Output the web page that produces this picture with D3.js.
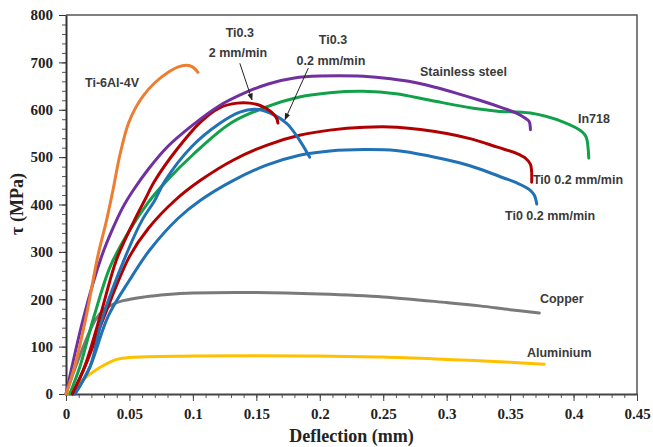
<!DOCTYPE html>
<html>
<head>
<meta charset="utf-8">
<style>
  body { margin: 0; background: #fff; }
  .tick text { font-family: "Liberation Serif", "Times New Roman", serif; font-weight: bold; font-size: 15px; fill: #222; }
  .note { font-family: "Liberation Sans", Arial, sans-serif; font-weight: bold; font-size: 12.5px; fill: #3a3a3a; }
</style>
</head>
<body>
<svg width="653" height="447"></svg>
<script src="https://cdn.jsdelivr.net/npm/d3@7/dist/d3.min.js"></script>
<script>
// curves: [deflection mm, shear stress MPa]
const aluminium = [[0.002,0],[0.013,30],[0.026,55],[0.035,68],[0.04,73],[0.05,77],[0.1,80],[0.15,81],[0.2,80],[0.25,78],[0.3,73],[0.35,67],[0.377,63]];
const copper = [[0,0],[0.01,75],[0.02,140],[0.023,156],[0.03,178],[0.036,188],[0.045,197],[0.062,205],[0.08,210],[0.1,213],[0.15,214],[0.2,211],[0.25,205],[0.3,193],[0.326,186],[0.35,178],[0.373,171]];
const ti6al4v = [[0,0],[0.007,60],[0.016,165],[0.025,290],[0.032,367],[0.037,430],[0.0425,505],[0.049,570],[0.055,605],[0.061,630],[0.07,657],[0.08,678],[0.088,690],[0.095,694],[0.1,690],[0.104,679]];
const stainless = [[0,0],[0.014,163],[0.028,290],[0.037,350],[0.045,395],[0.053,430],[0.065,475],[0.08,522],[0.1,568],[0.12,607],[0.143,638],[0.16,655],[0.18,667],[0.2,671],[0.23,671],[0.25,667],[0.27,660],[0.29,648],[0.31,633],[0.326,620],[0.345,603],[0.355,593],[0.362,582],[0.365,575],[0.366,558]];
const ti03fast = [[0.005,0],[0.015,60],[0.027,165],[0.04,285],[0.054,367],[0.062,409],[0.07,450],[0.087,515],[0.106,574],[0.121,604],[0.135,614],[0.145,614],[0.153,609],[0.162,595],[0.166,582],[0.167,572]];
const ti03slow = [[0.007,0],[0.019,58],[0.029,163],[0.049,304],[0.06,367],[0.07,409],[0.078,450],[0.099,522],[0.121,571],[0.137,595],[0.149,601],[0.161,593],[0.174,571],[0.184,536],[0.192,500]];
const in718 = [[0.003,0],[0.011,58],[0.022,163],[0.035,270],[0.05,345],[0.065,405],[0.08,452],[0.1,505],[0.13,572],[0.158,606],[0.184,627],[0.208,636],[0.234,639],[0.26,634],[0.287,620],[0.321,603],[0.34,597],[0.366,593],[0.392,574],[0.407,553],[0.41,542],[0.412,498]];
const ti0a = [[0.005,0],[0.015,58],[0.03,163],[0.05,290],[0.065,350],[0.086,409],[0.106,451],[0.132,494],[0.158,525],[0.184,546],[0.208,557],[0.235,563],[0.261,563],[0.3,550],[0.32,538],[0.34,521],[0.355,508],[0.362,498],[0.366,485],[0.367,447]];
const ti0b = [[0.007,0],[0.019,58],[0.033,163],[0.05,240],[0.066,304],[0.088,370],[0.106,409],[0.132,451],[0.158,483],[0.184,504],[0.208,513],[0.235,516],[0.26,514],[0.287,502],[0.31,488],[0.326,475],[0.345,456],[0.355,446],[0.365,432],[0.369,420],[0.371,401]];

const series = [
  { data: aluminium, color: "#FFC000" },
  { data: copper, color: "#7a7a7a" },
  { data: ti0b, color: "#2171b5" },
  { data: ti0a, color: "#b00000" },
  { data: in718, color: "#12a04a" },
  { data: ti03slow, color: "#2171b5" },
  { data: ti03fast, color: "#b00000" },
  { data: stainless, color: "#7030a0" },
  { data: ti6al4v, color: "#ed7d31" }
];

const xTicks = [0, 0.05, 0.1, 0.15, 0.2, 0.25, 0.3, 0.35, 0.4, 0.45];
const yTicks = [0, 100, 200, 300, 400, 500, 600, 700, 800];

// annotations, anchored in data units
const notes = [
  { text: "Ti-6Al-4V", x: 0.015, y: 648, anchor: "start" },
  { text: "Ti0.3", x: 0.137, y: 753, anchor: "middle" },
  { text: "2 mm/min", x: 0.1355, y: 711, anchor: "middle" },
  { text: "Ti0.3", x: 0.2104, y: 738, anchor: "middle" },
  { text: "0.2 mm/min", x: 0.2088, y: 694, anchor: "middle" },
  { text: "Stainless steel", x: 0.279, y: 671, anchor: "start" },
  { text: "In718", x: 0.4035, y: 572, anchor: "start" },
  { text: "Ti0 0.2 mm/min", x: 0.368, y: 443, anchor: "start" },
  { text: "Ti0 0.2 mm/min", x: 0.346, y: 367, anchor: "start" },
  { text: "Copper", x: 0.3735, y: 192, anchor: "start" },
  { text: "Aluminium", x: 0.3633, y: 78, anchor: "start" }
];
const arrows = [
  { from: [0.137, 698], to: [0.1466, 621] },
  { from: [0.191, 688], to: [0.1726, 579] }
];

const margin = { top: 15, right: 16, bottom: 53, left: 66 };
const width = 653 - margin.left - margin.right;
const height = 447 - margin.top - margin.bottom;

const svg = d3.select("svg");
const g = svg.append("g").attr("transform", `translate(${margin.left},${margin.top})`);

const x = d3.scaleLinear().domain([0, 0.45]).range([0, width]);
const y = d3.scaleLinear().domain([0, 800]).range([height, 0]);

// frame top / right
g.append("path")
  .attr("d", `M0,0H${width}V${height}`)
  .attr("fill", "none").attr("stroke", "#555").attr("stroke-width", 1.5);

// minor ticks
g.append("g").attr("transform", `translate(0,${height})`)
  .call(d3.axisBottom(x).tickValues(d3.range(0, 0.451, 0.01)).tickSize(4).tickFormat(""))
  .call(a => a.select(".domain").remove())
  .selectAll("line").attr("stroke", "#555");
g.append("g")
  .call(d3.axisLeft(y).tickValues(d3.range(0, 801, 20)).tickSize(4).tickFormat(""))
  .call(a => a.select(".domain").remove())
  .selectAll("line").attr("stroke", "#555");

const xAxis = g.append("g").attr("transform", `translate(0,${height})`)
  .call(d3.axisBottom(x).tickValues(xTicks).tickSize(7).tickPadding(7).tickSizeOuter(0)
    .tickFormat(d => d === 0 ? "0" : d3.format("")(+d.toFixed(2))));
xAxis.select(".domain").attr("stroke", "#444").attr("stroke-width", 2);
xAxis.selectAll(".tick line").attr("stroke", "#444");

const yAxis = g.append("g")
  .call(d3.axisLeft(y).tickValues(yTicks).tickSize(7).tickPadding(6).tickSizeOuter(0));
yAxis.select(".domain").attr("stroke", "#333").attr("stroke-width", 2);
yAxis.selectAll(".tick line").attr("stroke", "#333");

const line = d3.line().x(d => x(d[0])).y(d => y(d[1])).curve(d3.curveCatmullRom.alpha(0.5));

g.append("g").selectAll("path")
  .data(series)
  .join("path")
  .attr("d", d => line(d.data))
  .attr("fill", "none")
  .attr("stroke", d => d.color)
  .attr("stroke-width", 3)
  .attr("stroke-linejoin", "round")
  .attr("stroke-linecap", "round");

svg.append("defs").append("marker")
  .attr("id", "head").attr("viewBox", "0 0 10 10").attr("refX", 9).attr("refY", 5)
  .attr("markerWidth", 7).attr("markerHeight", 7).attr("orient", "auto")
  .append("path").attr("d", "M0,1L10,5L0,9Z").attr("fill", "#222");

g.append("g").selectAll("line")
  .data(arrows)
  .join("line")
  .attr("x1", d => x(d.from[0])).attr("y1", d => y(d.from[1]))
  .attr("x2", d => x(d.to[0])).attr("y2", d => y(d.to[1]))
  .attr("stroke", "#222").attr("stroke-width", 1)
  .attr("marker-end", "url(#head)");

g.append("g").selectAll("text")
  .data(notes)
  .join("text")
  .attr("class", "note")
  .attr("x", d => x(d.x)).attr("y", d => y(d.y))
  .attr("text-anchor", d => d.anchor)
  .text(d => d.text);

svg.append("text")
  .attr("x", margin.left + width / 2).attr("y", 442)
  .attr("text-anchor", "middle")
  .style("font-family", '"Liberation Serif", "Times New Roman", serif')
  .style("font-weight", "bold").style("font-size", "18px").style("fill", "#222")
  .text("Deflection (mm)");

svg.append("text")
  .attr("transform", "translate(23,204) rotate(-90)")
  .attr("text-anchor", "middle")
  .style("font-family", '"Liberation Serif", "Times New Roman", serif')
  .style("font-weight", "bold").style("font-size", "18px").style("fill", "#222")
  .text("τ (MPa)");
</script>
</body>
</html>
